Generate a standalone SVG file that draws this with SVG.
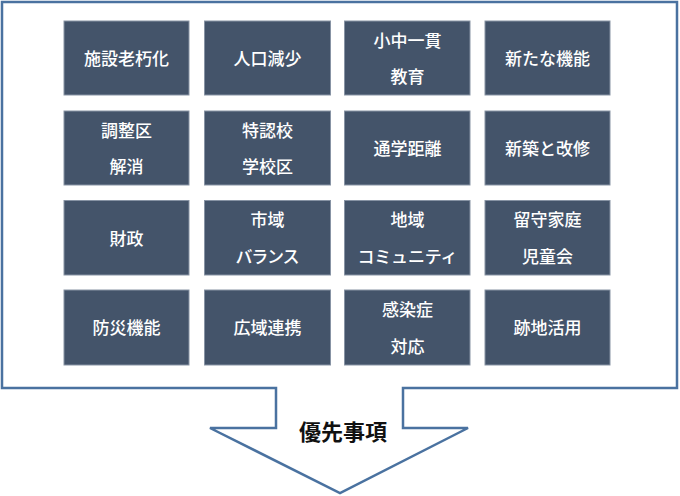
<svg xmlns="http://www.w3.org/2000/svg" width="680" height="496" viewBox="0 0 680 496">
<style>
.box{fill:#44546a;stroke:#8793a4;stroke-width:1}
.t{fill:#ffffff;font-family:"Noto Sans CJK JP","Noto Sans CJK SC",sans-serif;font-size:17px;font-weight:500;text-anchor:middle;dominant-baseline:central}
.frame{fill:#ffffff;stroke:#4a72a0;stroke-width:2.5;stroke-linejoin:miter}
.lbl{fill:#111111;font-family:"Noto Sans CJK JP","Noto Sans CJK SC",sans-serif;font-size:22px;font-weight:bold;text-anchor:middle;dominant-baseline:central}
</style>
<g id="frame">
<path class="frame" d="M2,2 H677 V388 H403 V428 H468 L340,493 L210,428 H276 V388 H2 Z"/>
<text class="lbl" x="343" y="430">優先事項</text>
</g>
<g id="connectors"></g>
<g id="n1"><rect class="box" x="64" y="21" width="125" height="74"/><text class="t" x="126.5" y="57">施設老朽化</text></g>
<g id="n2"><rect class="box" x="204.5" y="21" width="126" height="74"/><text class="t" x="267.5" y="57">人口減少</text></g>
<g id="n3"><rect class="box" x="344.5" y="21" width="125.5" height="74"/><text class="t" x="407.5" y="39">小中一貫</text><text class="t" x="407.5" y="75">教育</text></g>
<g id="n4"><rect class="box" x="485" y="21" width="125" height="74"/><text class="t" x="547.5" y="57">新たな機能</text></g>

<g id="n5"><rect class="box" x="64" y="111" width="125" height="74"/><text class="t" x="126.5" y="129">調整区</text><text class="t" x="126.5" y="165.5">解消</text></g>
<g id="n6"><rect class="box" x="204.5" y="111" width="126" height="74"/><text class="t" x="267.5" y="129">特認校</text><text class="t" x="267.5" y="165.5">学校区</text></g>
<g id="n7"><rect class="box" x="344.5" y="111" width="125.5" height="74"/><text class="t" x="407.5" y="147">通学距離</text></g>
<g id="n8"><rect class="box" x="485" y="111" width="125" height="74"/><text class="t" x="547.5" y="147">新築と改修</text></g>

<g id="n9"><rect class="box" x="64" y="200.5" width="125" height="74.5"/><text class="t" x="126.5" y="237">財政</text></g>
<g id="n10"><rect class="box" x="204.5" y="200.5" width="126" height="74.5"/><text class="t" x="267.5" y="218.5">市域</text><text class="t" x="267.5" y="255.5" textLength="64" lengthAdjust="spacing">バランス</text></g>
<g id="n11"><rect class="box" x="344.5" y="200.5" width="125.5" height="74.5"/><text class="t" x="407.5" y="218.5">地域</text><text class="t" x="407.5" y="255.5" textLength="100" lengthAdjust="spacing">コミュニティ</text></g>
<g id="n12"><rect class="box" x="485" y="200.5" width="125" height="74.5"/><text class="t" x="547.5" y="218.5">留守家庭</text><text class="t" x="547.5" y="255.5">児童会</text></g>

<g id="n13"><rect class="box" x="64" y="290" width="125" height="75"/><text class="t" x="126.5" y="326.5">防災機能</text></g>
<g id="n14"><rect class="box" x="204.5" y="290" width="126" height="75"/><text class="t" x="267.5" y="326.5">広域連携</text></g>
<g id="n15"><rect class="box" x="344.5" y="290" width="125.5" height="75"/><text class="t" x="407.5" y="308.5">感染症</text><text class="t" x="407.5" y="345">対応</text></g>
<g id="n16"><rect class="box" x="485" y="290" width="125" height="75"/><text class="t" x="547.5" y="326.5">跡地活用</text></g>
</svg>
